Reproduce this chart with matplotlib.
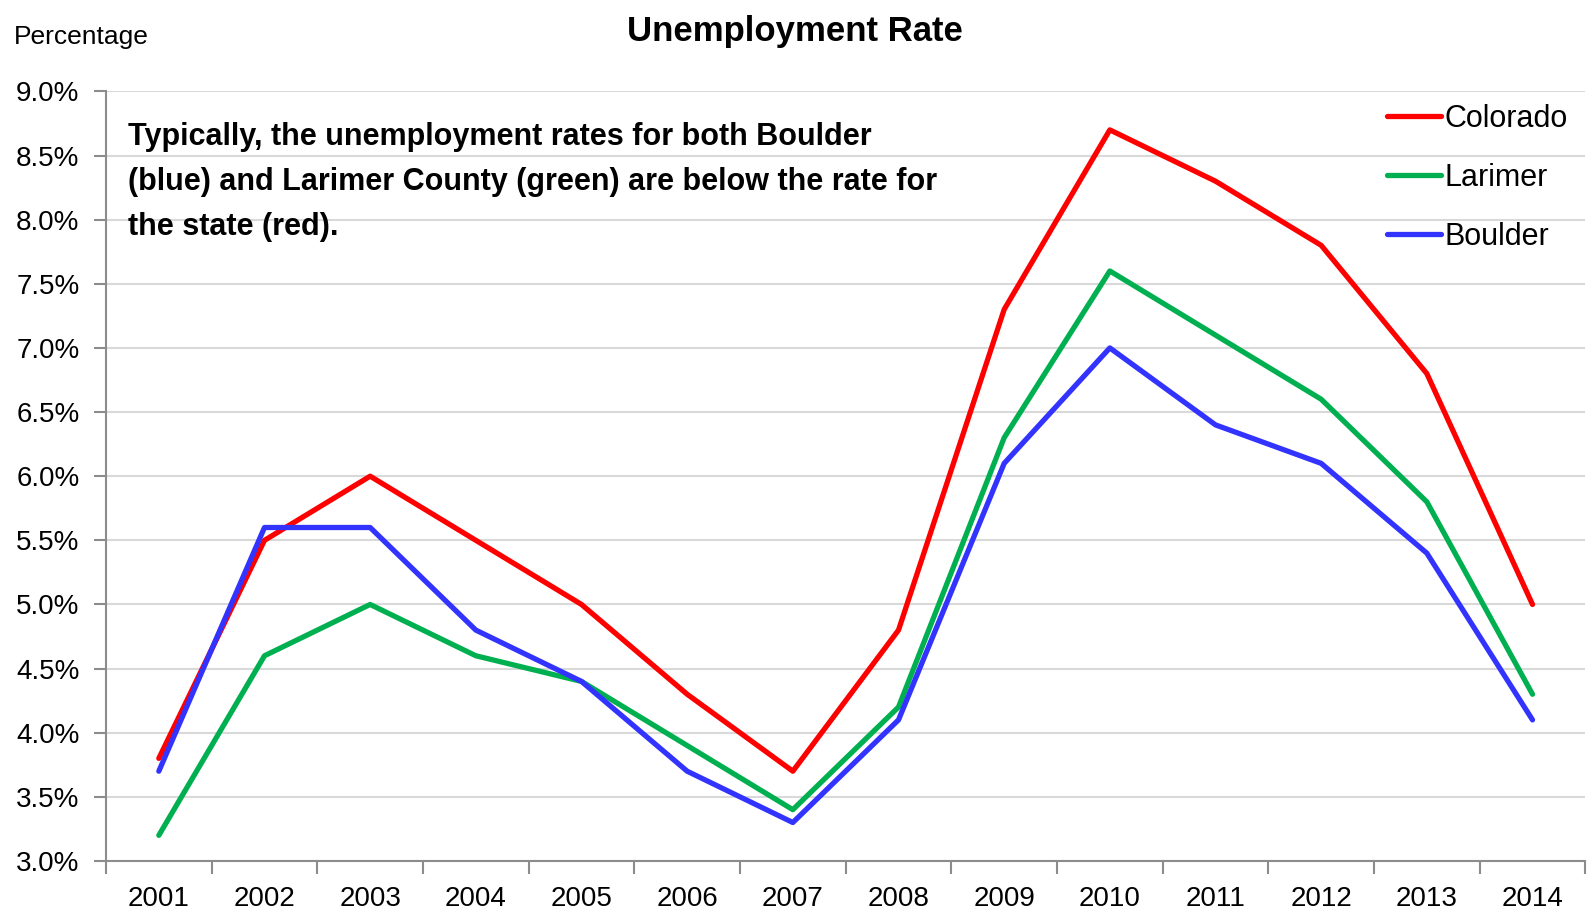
import numpy as np
import matplotlib
matplotlib.use("Agg")
from matplotlib import pyplot as plt
from matplotlib.ticker import FixedLocator, FuncFormatter

plt.rcParams['font.family'] = ['Liberation Sans Narrow', 'Liberation Sans', 'DejaVu Sans']

years = ['2001', '2002', '2003', '2004', '2005', '2006', '2007',
         '2008', '2009', '2010', '2011', '2012', '2013', '2014']
colorado = [3.8, 5.5, 6.0, 5.5, 5.0, 4.3, 3.7, 4.8, 7.3, 8.7, 8.3, 7.8, 6.8, 5.0]
larimer = [3.2, 4.6, 5.0, 4.6, 4.4, 3.9, 3.4, 4.2, 6.3, 7.6, 7.1, 6.6, 5.8, 4.3]
boulder = [3.7, 5.6, 5.6, 4.8, 4.4, 3.7, 3.3, 4.1, 6.1, 7.0, 6.4, 6.1, 5.4, 4.1]
y_ticks = [3.0, 3.5, 4.0, 4.5, 5.0, 5.5, 6.0, 6.5, 7.0, 7.5, 8.0, 8.5, 9.0]

fig = plt.figure(figsize=(15.89, 9.14), dpi=100)
ax = fig.add_axes([0.0667, 0.058, 0.931, 0.842])

x = np.arange(len(years))
ax.plot(x, colorado, color='#ff0000', lw=3.8, label='Colorado', solid_capstyle='round')
ax.plot(x, larimer, color='#00b050', lw=3.8, label='Larimer', solid_capstyle='round')
ax.plot(x, boulder, color='#3333ff', lw=3.8, label='Boulder', solid_capstyle='round')

ax.set_xlim(-0.5, len(years) - 0.5)
ax.set_ylim(3.0, 9.0)

# tick marks sit between the years, labels in the middle
ax.xaxis.set_major_locator(FixedLocator(np.arange(-0.5, len(years), 1.0)))
ax.xaxis.set_major_formatter(FuncFormatter(lambda v, p: ''))
ax.xaxis.set_minor_locator(FixedLocator(x))
ax.set_xticklabels(years, minor=True)
ax.tick_params(axis='x', which='major', direction='out', length=9, width=1.5, color='#8c8c8c')
ax.tick_params(axis='x', which='minor', length=0, pad=18, labelsize=20)

ax.set_yticks(y_ticks)
ax.yaxis.set_major_formatter(FuncFormatter(lambda v, p: '%.1f%%' % v))
ax.tick_params(axis='y', direction='out', length=9, width=1.5, color='#8c8c8c', labelsize=20, pad=10)

ax.grid(axis='y', color='#d9d9d9', lw=1.5)
ax.set_axisbelow(True)
for s in ['top', 'right']:
    ax.spines[s].set_visible(False)
for s in ['left', 'bottom']:
    ax.spines[s].set_color('#8c8c8c')
    ax.spines[s].set_linewidth(1.5)

fig.text(0.5, 0.966, 'Unemployment Rate', ha='center', va='center', fontsize=25, fontweight='bold')
fig.text(0.009, 0.96, 'Percentage', ha='left', va='center', fontsize=19)

ax.text(0.015, 0.96, 'Typically, the unemployment rates for both Boulder\n(blue) and Larimer County (green) are below the rate for\nthe state (red).',
        transform=ax.transAxes, ha='left', va='top', fontsize=22, fontweight='bold', linespacing=1.64)

leg = ax.legend(loc='upper right', bbox_to_anchor=(0.988, 0.984), frameon=False, fontsize=22,
                handlelength=1.75, handletextpad=0.12, labelspacing=0.95,
                borderpad=0, borderaxespad=0)

fig.savefig('out.png', dpi=100)
